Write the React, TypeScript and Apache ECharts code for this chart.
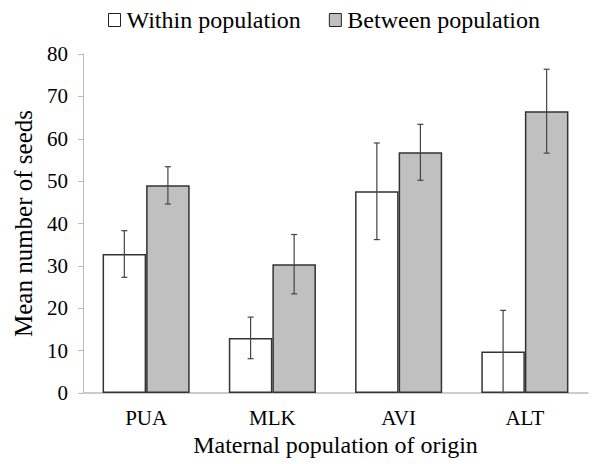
import React, { useEffect, useRef } from "react";
import * as echarts from "echarts";

const categories = ["PUA", "MLK", "AVI", "ALT"];
const withinValues = [32.8, 13.0, 47.6, 9.8];
const withinErrors = [5.5, 4.9, 11.4, 9.7];
const betweenValues = [49.0, 30.4, 56.8, 66.5];
const betweenErrors = [4.4, 7.0, 6.6, 9.9];
const yTicks = { min: 0, max: 80, interval: 10 };

const CAT_GAP = 0.31;
const FONT = "'Liberation Serif', 'Times New Roman', serif";

function errorSeries(name: string, values: number[], errors: number[], side: number) {
  return {
    type: "custom",
    name: name + " err",
    z: 10,
    data: values.map((v, i) => [i, v - errors[i], v + errors[i]]),
    renderItem: (params: any, api: any) => {
      const idx = api.value(0);
      const lo = api.coord([idx, api.value(1)]);
      const hi = api.coord([idx, api.value(2)]);
      const band = api.size([1, 0])[0];
      const bw = (band * (1 - CAT_GAP)) / 2;
      const x = lo[0] + (side * bw) / 2;
      const cap = 3;
      const style = { stroke: "#444", lineWidth: 1.2 };
      return {
        type: "group",
        children: [
          { type: "line", shape: { x1: x, y1: lo[1], x2: x, y2: hi[1] }, style },
          { type: "line", shape: { x1: x - cap, y1: lo[1], x2: x + cap, y2: lo[1] }, style },
          { type: "line", shape: { x1: x - cap, y1: hi[1], x2: x + cap, y2: hi[1] }, style },
        ],
      };
    },
    silent: true,
  };
}

export default function App() {
  const ref = useRef<HTMLDivElement>(null);
  useEffect(() => {
    if (!ref.current) return;
    const chart = echarts.init(ref.current, null, { renderer: "svg" });
    chart.setOption({
      animation: false,
      backgroundColor: "#fff",
      textStyle: { fontFamily: FONT },
      legend: {
        top: 3,
        left: 103,
        itemGap: 28,
        itemWidth: 12,
        itemHeight: 13,
        textStyle: { fontFamily: FONT, fontSize: 24, color: "#000", padding: [0, 0, 0, 1] },
        data: [
          { name: "Within population", icon: "rect", itemStyle: { color: "#fff", borderColor: "#222", borderWidth: 1 } },
          { name: "Between population", icon: "rect", itemStyle: { color: "#c0c0c0", borderColor: "#222", borderWidth: 1 } },
        ],
      },
      grid: { left: 83, right: 4, top: 54, bottom: 71 },
      xAxis: {
        type: "category",
        data: categories,
        name: "Maternal population of origin",
        nameLocation: "middle",
        nameGap: 36,
        nameTextStyle: { fontFamily: FONT, fontSize: 24, color: "#000" },
        axisLine: { lineStyle: { color: "#bbb", width: 1.5 } },
        axisTick: { show: false },
        axisLabel: { fontFamily: FONT, fontSize: 21, color: "#000", margin: 14 },
      },
      yAxis: {
        type: "value",
        min: yTicks.min,
        max: yTicks.max,
        interval: yTicks.interval,
        name: "Mean number of seeds",
        nameLocation: "middle",
        nameGap: 38,
        nameTextStyle: { fontFamily: FONT, fontSize: 25, color: "#000" },
        axisLine: { show: true, lineStyle: { color: "#bbb", width: 1 } },
        axisTick: { show: true, length: 5, lineStyle: { color: "#bbb" } },
        splitLine: { show: false },
        axisLabel: { fontFamily: FONT, fontSize: 21, color: "#000", margin: 15 },
      },
      series: [
        {
          type: "bar",
          name: "Within population",
          data: withinValues,
          barGap: "0%",
          barCategoryGap: CAT_GAP * 100 + "%",
          itemStyle: { color: "#fff", borderColor: "#333", borderWidth: 1.5 },
        },
        {
          type: "bar",
          name: "Between population",
          data: betweenValues,
          barGap: "0%",
          barCategoryGap: CAT_GAP * 100 + "%",
          itemStyle: { color: "#c0c0c0", borderColor: "#333", borderWidth: 1.5 },
        },
        errorSeries("Within population", withinValues, withinErrors, -1),
        errorSeries("Between population", betweenValues, betweenErrors, 1),
      ],
    });
    return () => chart.dispose();
  }, []);
  return (
    <div
      ref={ref}
      style={{ position: "absolute", left: 0, top: 0, width: 592, height: 464 }}
    />
  );
}
